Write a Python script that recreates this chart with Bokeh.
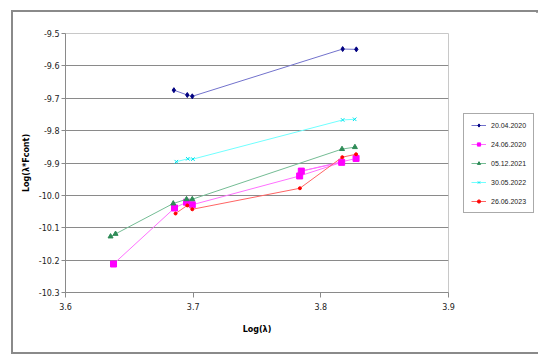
from bokeh.plotting import figure
from bokeh.models import (Range1d, FixedTicker, PrintfTickFormatter, Legend, LegendItem)
from bokeh.embed import file_html
from bokeh.resources import INLINE

# ---- data ----
labels = ["20.04.2020", "24.06.2020", "05.12.2021", "30.05.2022", "26.06.2023"]

x_20042020 = [3.6849, 3.6954, 3.6993, 3.8171, 3.8278]
y_20042020 = [-9.675, -9.690, -9.694, -9.548, -9.549]

x_24062020 = [3.6376, 3.6854, 3.6948, 3.6993, 3.7834, 3.8163, 3.7847, 3.8276]
y_24062020 = [-10.212, -10.039, -10.021, -10.029, -9.940, -9.898, -9.925, -9.886]

x_05122021 = [3.6353, 3.6392, 3.6844, 3.6948, 3.6993, 3.8166, 3.8267]
y_05122021 = [-10.127, -10.119, -10.025, -10.012, -10.012, -9.857, -9.851]

x_30052022 = [3.6868, 3.6958, 3.6998, 3.8171, 3.8265]
y_30052022 = [-9.896, -9.887, -9.888, -9.767, -9.765]

x_26062023 = [3.6862, 3.6954, 3.6993, 3.7836, 3.8168, 3.8276]
y_26062023 = [-10.056, -10.031, -10.043, -9.978, -9.882, -9.873]

x_ticks = [3.6, 3.7, 3.8, 3.9]
y_ticks = [-9.5, -9.6, -9.7, -9.8, -9.9, -10.0, -10.1, -10.2, -10.3]

series = [
    (x_20042020, y_20042020, "#7272cc", "#000080", "diamond", 5),
    (x_24062020, y_24062020, "#ff70ff", "#ff00ff", "square", 6),
    (x_05122021, y_05122021, "#74bc94", "#2e8b57", "triangle", 5),
    (x_30052022, y_30052022, "#70ffff", "#00e5ee", "x", 5),
    (x_26062023, y_26062023, "#ff6464", "#ff0000", "circle", 3),
]

p = figure(output_backend="svg", toolbar_location=None,
           frame_width=383, frame_height=259,
           min_border_left=52, min_border_top=21, min_border_right=88, min_border_bottom=60,
           x_range=Range1d(3.6, 3.9), y_range=Range1d(-10.3, -9.5),
           margin=(10, 0, 0, 11),
           styles={"border": "2px solid #8a8a8a", "box-sizing": "content-box",
                   "width": "523px", "height": "340px"},
           stylesheets=[":host { box-sizing: content-box !important; "
                        "width: 523px !important; height: 340px !important; "
                        "max-height: 340px !important; }"])

p.background_fill_color = "white"
p.border_fill_color = "white"
p.outline_line_color = "#c8c8c8"
p.outline_line_width = 1

p.xgrid.grid_line_color = None
p.ygrid.grid_line_color = "#8a8a8a"
p.ygrid.grid_line_width = 1

p.xaxis.ticker = FixedTicker(ticks=x_ticks)
p.yaxis.ticker = FixedTicker(ticks=y_ticks)
p.xaxis.formatter = PrintfTickFormatter(format="%.1f")
p.yaxis.formatter = PrintfTickFormatter(format="%.1f")

for ax in (p.xaxis, p.yaxis):
    ax.axis_line_color = "#8a8a8a"
    ax.major_tick_line_color = "#8a8a8a"
    ax.minor_tick_line_color = None
    ax.major_label_text_font = "DejaVu Sans"
    ax.major_label_text_font_size = "8px"
    ax.major_label_text_color = "#222222"
    ax.axis_label_text_font = "DejaVu Sans"
    ax.axis_label_text_font_size = "8px"
    ax.axis_label_text_font_style = "bold"
    ax.axis_label_text_color = "#000000"

p.xaxis.major_tick_in = 0
p.xaxis.major_tick_out = 5
p.xaxis.major_label_standoff = 5
p.yaxis.major_tick_in = 0
p.yaxis.major_tick_out = 4
p.yaxis.major_label_standoff = 2
p.xaxis.axis_label = "Log(λ)"
p.yaxis.axis_label = "Log(λ*Fcont)"
p.xaxis.axis_label_standoff = 12
p.yaxis.axis_label_standoff = 5

items = []
for (xs, ys, lc, mc, mk, ms), lab in zip(series, labels):
    lr = p.line(xs, ys, line_color=lc, line_width=1)
    sr = p.scatter(xs, ys, marker=mk, size=ms, fill_color=mc, line_color=mc,
                   line_width=1)
    items.append(LegendItem(label=lab, renderers=[lr, sr]))

legend = Legend(items=items, location=(15, 79))
legend.label_text_font = "Liberation Sans"
legend.label_text_font_size = "7px"
legend.label_text_color = "#222222"
legend.glyph_width = 15
legend.glyph_height = 8
legend.label_height = 8
legend.spacing = 11
legend.padding = 7
legend.label_standoff = 5
legend.border_line_color = "#555555"
legend.border_line_width = 1
legend.background_fill_alpha = 1
legend.margin = 0
p.add_layout(legend, "right")

open("out.html", "w").write(file_html(p, INLINE))
